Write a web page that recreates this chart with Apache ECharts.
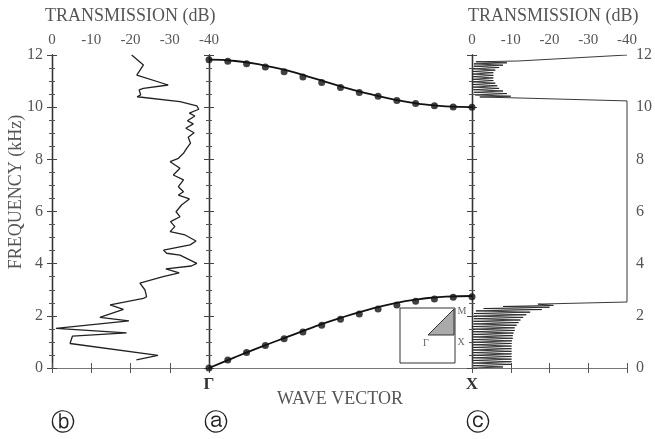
<!DOCTYPE html>
<html>
<head>
<meta charset="utf-8">
<script src="https://cdn.jsdelivr.net/npm/echarts@6/dist/echarts.min.js"></script>
<style>
  html, body { margin: 0; padding: 0; background: #fff; }
  #chart { width: 655px; height: 439px; }
</style>
</head>
<body>
<div id="chart"></div>
<script>
// (b) measured transmission: [dB, kHz]
var transB = [
    [-20.3, 12.0], [-23.3, 11.62], [-21.6, 11.23], [-29.6, 10.85], [-23.3, 10.72], [-22.2, 10.66],
    [-22.6, 10.47], [-21.7, 10.40], [-32.6, 10.21], [-36.9, 10.05], [-37.4, 9.92], [-35.0, 9.77],
    [-36.4, 9.66], [-34.5, 9.48], [-36.0, 9.36], [-34.1, 9.19], [-36.2, 9.02], [-34.7, 8.85],
    [-35.3, 8.62], [-34.3, 8.42], [-33.5, 8.23], [-32.2, 8.04], [-30.1, 7.91], [-32.6, 7.66],
    [-30.9, 7.40], [-33.5, 7.21], [-32.2, 6.95], [-33.5, 6.76], [-32.2, 6.63], [-35.0, 6.48],
    [-33.0, 6.25], [-31.6, 5.99], [-32.6, 5.80], [-30.2, 5.61], [-31.3, 5.42], [-30.1, 5.23],
    [-33.9, 5.10], [-36.7, 4.87], [-35.2, 4.72], [-28.4, 4.52], [-29.2, 4.40], [-32.6, 4.33],
    [-36.9, 4.01], [-35.5, 3.91], [-29.0, 3.80], [-32.4, 3.65], [-28.3, 3.50], [-22.4, 3.25],
    [-22.0, 3.18], [-23.7, 2.99], [-24.1, 2.73], [-23.3, 2.67], [-14.8, 2.42], [-18.2, 2.25],
    [-12.2, 1.94], [-19.6, 1.81], [-1.0, 1.52], [-19.0, 1.35], [-5.2, 1.22], [-4.6, 0.94],
    [-27.0, 0.48], [-21.5, 0.31]
];

// (c) computed transmission: [dB, kHz]
var transC = [
    [-40, 12.0], [-40, 11.95], [-12, 11.77], [-1, 11.74], [-9, 11.70], [-0.5, 11.66], [-8, 11.61],
    [-0.5, 11.57], [-7, 11.52], [-0.3, 11.47], [-6, 11.42], [-0.3, 11.37], [-5.5, 11.32],
    [-0.2, 11.27], [-5.5, 11.22], [-0.2, 11.17], [-5.5, 11.12], [-0.2, 11.07], [-5.5, 11.02],
    [-0.2, 10.97], [-6, 10.92], [-0.3, 10.87], [-6.5, 10.82], [-0.3, 10.77], [-7, 10.72],
    [-0.4, 10.67], [-8, 10.62], [-0.5, 10.57], [-9, 10.52], [-0.8, 10.47], [-10, 10.42],
    [-2, 10.39], [-10, 10.36], [-40, 10.24], [-40, 2.53],
    [-17, 2.45], [-21, 2.40], [-8, 2.36], [-20, 2.33], [-3, 2.28], [-18, 2.24], [-1, 2.19],
    [-15, 2.14], [-0.5, 2.09], [-14, 2.04], [-0.5, 1.99], [-13.2, 1.94], [-0.5, 1.89],
    [-12.5, 1.84], [-0.4, 1.79], [-12, 1.74], [-0.4, 1.69], [-11.5, 1.64], [-0.3, 1.59],
    [-11, 1.54], [-0.3, 1.49], [-11, 1.44], [-0.3, 1.39], [-10.7, 1.34], [-0.3, 1.29],
    [-10.5, 1.24], [-0.3, 1.19], [-10.5, 1.14], [-0.3, 1.09], [-10.3, 1.04], [-0.3, 0.99],
    [-10.2, 0.94], [-0.3, 0.89], [-10.2, 0.84], [-0.3, 0.79], [-10.2, 0.74], [-0.3, 0.69],
    [-10.2, 0.64], [-0.3, 0.59], [-10.2, 0.54], [-0.3, 0.49], [-10.2, 0.44], [-0.3, 0.39],
    [-10.2, 0.34], [-0.3, 0.29], [-10.2, 0.24], [-0.3, 0.19], [-10.2, 0.14], [-0.3, 0.09],
    [-8, 0.04], [-0.3, 0.0]
];

// (a) band structure, dots at k = i/14, lines at k = i/10
var dotK = [0, 1/14, 2/14, 3/14, 4/14, 5/14, 6/14, 7/14, 8/14, 9/14, 10/14, 11/14, 12/14, 13/14, 1];
var upperDots = [11.82, 11.76, 11.66, 11.54, 11.36, 11.16, 10.95, 10.75, 10.56, 10.42, 10.26, 10.14, 10.05, 10.01, 10.0];
var lowerDots = [0.0, 0.31, 0.59, 0.86, 1.12, 1.38, 1.64, 1.87, 2.07, 2.26, 2.42, 2.56, 2.65, 2.71, 2.73];
var lineK = [0, 0.1, 0.2, 0.3, 0.4, 0.5, 0.6, 0.7, 0.8, 0.9, 1];
var upperLine = [11.82, 11.77, 11.62, 11.40, 11.10, 10.80, 10.53, 10.30, 10.13, 10.03, 10.0];
var lowerLine = [0.0, 0.42, 0.82, 1.20, 1.58, 1.92, 2.22, 2.47, 2.64, 2.74, 2.76];

var dbTicks = [0, -10, -20, -30, -40];
var kLabels = { 0: 'Γ', 1: 'X' };

var serif = '"Liberation Serif", "DejaVu Serif", serif';
var textColor = '#555';

function zip(xs, ys) {
    return xs.map(function (x, i) { return [x, ys[i]]; });
}

function dbAxis(gridIndex, pos, showLabel) {
    return {
        type: 'value', gridIndex: gridIndex, position: pos,
        min: dbTicks[dbTicks.length - 1], max: dbTicks[0], interval: 10, inverse: true,
        axisLine: { lineStyle: { color: '#777', width: 1.2 } },
        axisTick: { inside: true, length: 5, lineStyle: { color: '#555' } },
        axisLabel: { show: showLabel, margin: 7, color: textColor, fontFamily: serif, fontSize: 15 },
        splitLine: { show: false }
    };
}

function freqAxis(gridIndex, pos, showLabel) {
    return {
        type: 'value', gridIndex: gridIndex, position: pos,
        min: 0, max: 12, interval: 2,
        axisLine: { lineStyle: { color: '#333', width: 1.3 } },
        axisTick: { inside: true, length: 5, lineStyle: { color: '#444' } },
        minorTick: { show: true, splitNumber: 4, length: 3, lineStyle: { color: '#555' } },
        axisLabel: { show: showLabel, margin: 9, color: textColor, fontFamily: serif, fontSize: 16 },
        splitLine: { show: false }
    };
}

var chart = echarts.init(document.getElementById('chart'));

var option = {
    animation: false,
    backgroundColor: '#fff',
    grid: [
        { left: 52, top: 55, width: 157, height: 313 },
        { left: 209, top: 55, width: 263, height: 313 },
        { left: 472, top: 55, width: 155, height: 313 }
    ],
    xAxis: [
        dbAxis(0, 'top', true),
        dbAxis(0, 'bottom', false),
        {
            type: 'value', gridIndex: 1, position: 'bottom', min: 0, max: 1, interval: 1,
            axisLine: { lineStyle: { color: '#777', width: 1.2 } },
            axisTick: { show: false },
            axisLabel: {
                margin: 8, color: '#333', fontFamily: serif, fontSize: 17, fontWeight: 'bold',
                formatter: function (v) { return kLabels[v] || ''; }
            },
            splitLine: { show: false }
        },
        {
            type: 'value', gridIndex: 1, position: 'top', min: 0, max: 1,
            axisLine: { lineStyle: { color: '#777', width: 1.2 } },
            axisTick: { show: false }, axisLabel: { show: false }, splitLine: { show: false }
        },
        dbAxis(2, 'top', true),
        dbAxis(2, 'bottom', false)
    ],
    yAxis: [
        freqAxis(0, 'left', true),
        freqAxis(0, 'right', false),
        freqAxis(1, 'left', false),
        freqAxis(1, 'right', false),
        freqAxis(2, 'left', false),
        freqAxis(2, 'right', true)
    ],
    series: [
        {
            type: 'line', xAxisIndex: 0, yAxisIndex: 0, data: transB,
            showSymbol: false, lineStyle: { color: '#222', width: 1.3 }
        },
        {
            type: 'line', xAxisIndex: 2, yAxisIndex: 2, data: zip(lineK, upperLine), smooth: true,
            showSymbol: false, lineStyle: { color: '#111', width: 1.8 }
        },
        {
            type: 'line', xAxisIndex: 2, yAxisIndex: 2, data: zip(lineK, lowerLine), smooth: true,
            showSymbol: false, lineStyle: { color: '#111', width: 1.8 }
        },
        {
            type: 'scatter', xAxisIndex: 2, yAxisIndex: 2, data: zip(dotK, upperDots),
            symbolSize: 7, itemStyle: { color: '#111' }, clip: false, z: 5
        },
        {
            type: 'scatter', xAxisIndex: 2, yAxisIndex: 2, data: zip(dotK, lowerDots),
            symbolSize: 7, itemStyle: { color: '#111' }, clip: false, z: 5
        },
        {
            type: 'line', xAxisIndex: 4, yAxisIndex: 4, data: transC,
            showSymbol: false, lineStyle: { color: '#222', width: 0.9 }
        }
    ],
    graphic: [
        {
            type: 'text', left: 45, top: 7,
            style: { text: 'TRANSMISSION (dB)', fill: textColor, font: '18px ' + serif }
        },
        {
            type: 'text', left: 468, top: 7,
            style: { text: 'TRANSMISSION (dB)', fill: textColor, font: '18px ' + serif }
        },
        {
            type: 'text', x: 16, y: 192, rotation: Math.PI / 2,
            style: {
                text: 'FREQUENCY (kHz)', fill: textColor, font: '18px ' + serif,
                align: 'center', verticalAlign: 'middle'
            }
        },
        {
            type: 'text', x: 340, y: 399,
            style: {
                text: 'WAVE VECTOR', fill: textColor, font: '18px ' + serif,
                align: 'center', verticalAlign: 'middle'
            }
        },
        {
            type: 'text', x: 63, y: 424,
            style: { text: 'ⓑ', fill: '#222', font: '24px "DejaVu Sans"', align: 'center', verticalAlign: 'middle' }
        },
        {
            type: 'text', x: 216, y: 424,
            style: { text: 'ⓐ', fill: '#222', font: '24px "DejaVu Sans"', align: 'center', verticalAlign: 'middle' }
        },
        {
            type: 'text', x: 478, y: 424,
            style: { text: 'ⓒ', fill: '#222', font: '24px "DejaVu Sans"', align: 'center', verticalAlign: 'middle' }
        },
        // Brillouin zone inset
        {
            type: 'rect', shape: { x: 400, y: 308, width: 55, height: 55 },
            style: { fill: '#fff', stroke: '#333', lineWidth: 1 }, z: 10
        },
        {
            type: 'polygon', shape: { points: [[428, 335], [454, 335], [454, 309]] },
            style: { fill: '#aaa', stroke: '#333', lineWidth: 1 }, z: 11
        },
        {
            type: 'text', x: 426, y: 343, z: 12,
            style: { text: 'Γ', fill: '#666', font: '10px ' + serif, align: 'center', verticalAlign: 'middle' }
        },
        {
            type: 'text', x: 461, y: 342, z: 12,
            style: { text: 'X', fill: '#666', font: '10px ' + serif, align: 'center', verticalAlign: 'middle' }
        },
        {
            type: 'text', x: 462, y: 311, z: 12,
            style: { text: 'M', fill: '#666', font: '10px ' + serif, align: 'center', verticalAlign: 'middle' }
        }
    ]
};

chart.setOption(option);
</script>
</body>
</html>
